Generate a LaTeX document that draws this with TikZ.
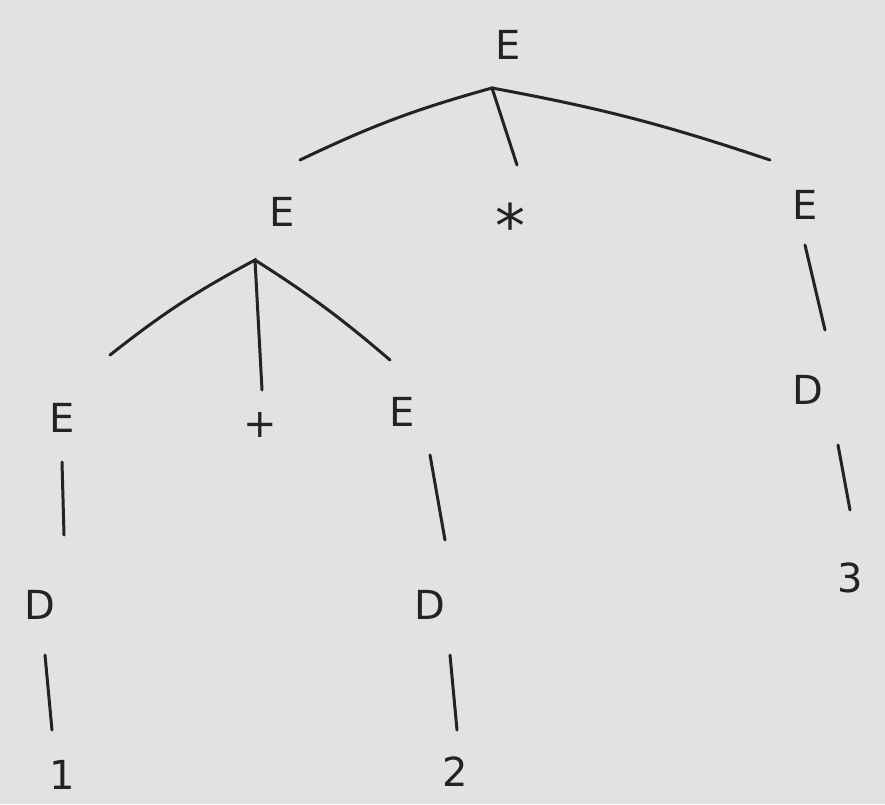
\documentclass[tikz,border=0pt]{standalone}
\usepackage{fontspec}
\setmainfont{DejaVu Sans}
\definecolor{bg}{RGB}{226,226,224}
\definecolor{ink}{RGB}{35,35,38}
\begin{document}
\begin{tikzpicture}[x=1pt,y=-1pt,
  sym/.style={text=ink,font=\fontsize{40}{40}\selectfont,inner sep=0pt},
  edge/.style={draw=ink,line width=3pt,line cap=round}]
\fill[bg] (0,0) rectangle (885,804);
\useasboundingbox (0,0) rectangle (885,804);
% nodes
\node[sym] (r) at (508,45) {E};
\node[sym,font=\fontsize{60}{60}\selectfont] (st) at (510,225) {*};
\node[sym] (el) at (282,212) {E};
\node[sym] (er) at (805,205) {E};
\node[sym] (ell) at (62,418) {E};
\node[sym] (pl) at (260,425) {+};
\node[sym] (elr) at (402,412) {E};
\node[sym] (dr) at (808,390) {D};
\node[sym] (n3) at (850,578) {3};
\node[sym] (dll) at (40,605) {D};
\node[sym] (n1) at (62,775) {1};
\node[sym] (dlr) at (430,605) {D};
\node[sym] (n2) at (455,772) {2};
% branch points and line ends
\coordinate (rb) at (492,88);
\coordinate (rl) at (300,160);
\coordinate (rm) at (517,165);
\coordinate (rr) at (770,160);
\coordinate (eb) at (255,260);
\coordinate (el1) at (110,355);
\coordinate (el2) at (262,390);
\coordinate (el3) at (390,360);
\draw[edge] (rl) to[bend left=5] (rb) -- (rm);
\draw[edge] (rb) to[bend left=4] (rr);
\draw[edge] (el1) to[bend left=5] (eb) -- (el2);
\draw[edge] (eb) to[bend left=4] (el3);
% vertical chains
\coordinate (a1) at (805,245); \coordinate (a2) at (825,330);
\draw[edge] (a1) -- (a2);
\coordinate (b1) at (838,445); \coordinate (b2) at (850,510);
\draw[edge] (b1) -- (b2);
\coordinate (c1) at (62,462); \coordinate (c2) at (64,535);
\draw[edge] (c1) -- (c2);
\coordinate (d1) at (45,655); \coordinate (d2) at (52,730);
\draw[edge] (d1) -- (d2);
\coordinate (e1) at (430,455); \coordinate (e2) at (445,540);
\draw[edge] (e1) -- (e2);
\coordinate (f1) at (450,655); \coordinate (f2) at (457,730);
\draw[edge] (f1) -- (f2);
\end{tikzpicture}
\end{document}
